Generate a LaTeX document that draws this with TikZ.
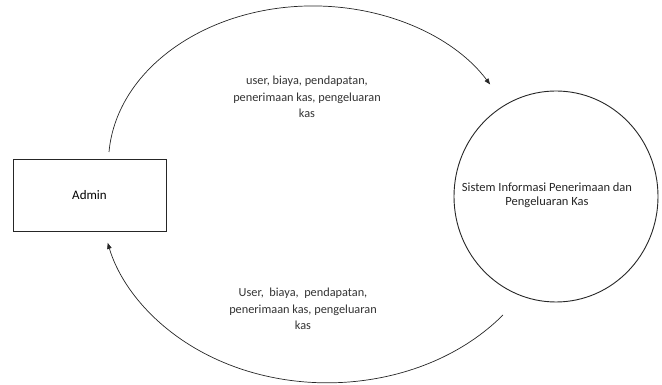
\documentclass[tikz,border=0pt]{standalone}
\usepackage{fontspec}
\setmainfont{Carlito}
\usetikzlibrary{arrows.meta,shapes.geometric}
\begin{document}
\begin{tikzpicture}[x=1pt,y=1pt,
  flowline/.style={draw=black!85, line width=0.7pt, -{Triangle[length=6pt,width=4.5pt]}},
  entity/.style={draw=black!85, line width=0.9pt, minimum width=153pt, minimum height=72pt, inner sep=0pt},
  process/.style={draw=black!85, line width=0.9pt, ellipse, minimum width=204pt, minimum height=211pt, inner sep=0pt},
  lbl/.style={align=center, font=\fontsize{12.3}{16.5}\selectfont, text=black!80},
  ptext/.style={align=center, font=\fontsize{12.5}{14.5}\selectfont, text=black!85}]
  \useasboundingbox (0,0) rectangle (662,385);

  % external entity and process
  \node[entity] (admin) at (89.5,190) {\fontsize{13}{15}\selectfont Admin};
  \node[process] (sys) at (556,188.5) {};
  \node[ptext] (systxt) at (547,190) {Sistem Informasi Penerimaan dan\\Pengeluaran Kas};

  % loose ends of the two data flows
  \coordinate (outA) at (109,233);
  \coordinate (outS) at (503,70);

  % data flow Admin -> system
  \draw[flowline] (outA) arc[start angle=176, end angle=30, x radius=204.5, y radius=157];
  \node[lbl] (lin) at (307,288) {user, biaya, pendapatan,\\penerimaan kas, pengeluaran\\kas};

  % data flow system -> Admin
  \draw[flowline] (outS) arc[start angle=-39, end angle=-166.4, x radius=226, y radius=183];
  \node[lbl] (lout) at (303,76) {User,\ \ biaya,\ \ pendapatan,\\penerimaan kas, pengeluaran\\kas};
\end{tikzpicture}
\end{document}
